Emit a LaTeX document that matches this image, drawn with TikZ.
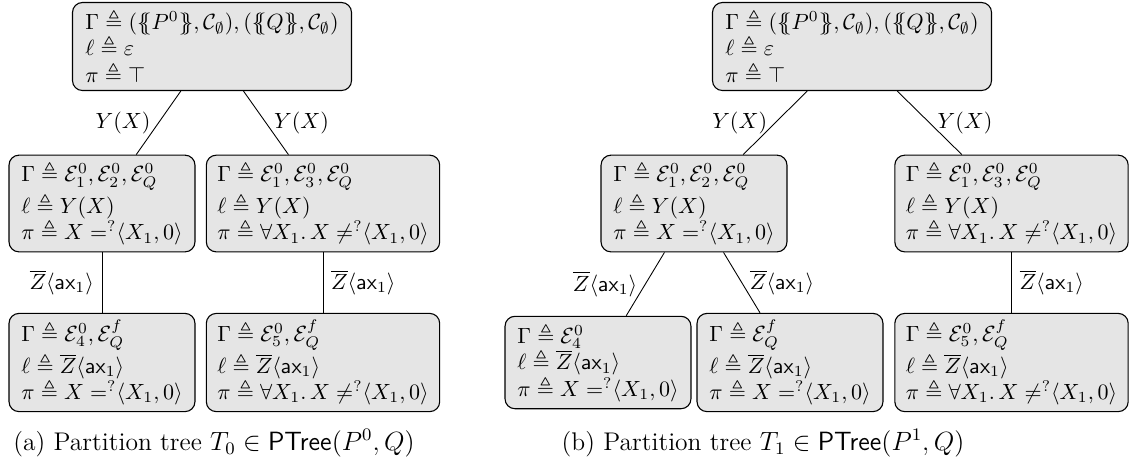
\documentclass[tikz,border=0pt]{standalone}
\usepackage{amsmath,amssymb}
\newcommand{\lbb}{\{\!\!\{}
\newcommand{\rbb}{\}\!\!\}}
\newcommand{\eqq}{\mathrel{=^{?}}\mkern-5mu}
\newcommand{\neqq}{\mathrel{\neq^{?}}\mkern-5mu}
\newcommand{\Zax}{\overline{Z}\langle\mathsf{ax}_1\rangle}
\tikzset{
  tbox/.style={draw=black, line width=0.5pt, rounded corners=4.5pt, fill=black!10,
    align=left, inner xsep=5pt, inner ysep=3pt},
  rootbox/.style={tbox, minimum width=126.8pt, minimum height=39.5pt},
  narrowbox/.style={tbox, minimum width=84.5pt, minimum height=42pt},
  widebox/.style={tbox, minimum width=105.9pt, minimum height=42pt},
  edge/.style={draw=black, line width=0.4pt},
  elab/.style={inner sep=3.5pt},
  capt/.style={font=\fontsize{11.6}{14}\selectfont}
}
\begin{document}
\begin{tikzpicture}[x=0.4545pt, y=-0.4545pt]
\useasboundingbox (0,0) rectangle (1132,459);
% ---------- tree (a)
\node[rootbox] (r0) at (212,46.5) {$\Gamma \triangleq (\lbb P^0\rbb, \mathcal{C}_\emptyset), (\lbb Q\rbb, \mathcal{C}_\emptyset)$\\ $\ell \triangleq \varepsilon$\\ $\pi \triangleq \top$};
\node[narrowbox] (a1) at (102,203.5) {$\Gamma \triangleq \mathcal{E}^0_1, \mathcal{E}^0_2, \mathcal{E}^0_Q$\\ $\ell \triangleq Y(X)$\\ $\pi \triangleq X \eqq\langle X_1, 0\rangle$};
\node[widebox] (a2) at (323,203.5) {$\Gamma \triangleq \mathcal{E}^0_1, \mathcal{E}^0_3, \mathcal{E}^0_Q$\\ $\ell \triangleq Y(X)$\\ $\pi \triangleq \forall X_1.\, X \neqq\langle X_1, 0\rangle$};
\node[narrowbox] (a3) at (102,362.5) {$\Gamma \triangleq \mathcal{E}^0_4, \mathcal{E}^f_Q$\\ $\ell \triangleq \Zax$\\ $\pi \triangleq X \eqq\langle X_1, 0\rangle$};
\node[widebox] (a4) at (323,362.5) {$\Gamma \triangleq \mathcal{E}^0_5, \mathcal{E}^f_Q$\\ $\ell \triangleq \Zax$\\ $\pi \triangleq \forall X_1.\, X \neqq\langle X_1, 0\rangle$};
\draw[edge] (r0) -- node[elab, left] {$Y(X)$} (a1);
\draw[edge] (r0) -- node[elab, right] {$Y(X)$} (a2);
\draw[edge] (a1) -- node[elab, left] {$\Zax$} (a3);
\draw[edge] (a2) -- node[elab, right] {$\Zax$} (a4);
\node[capt] (ca) at (214,443) {(a) Partition tree $T_0 \in \mathsf{PTree}(P^0, Q)$};
% ---------- tree (b)
\node[rootbox] (s0) at (852,46.5) {$\Gamma \triangleq (\lbb P^0\rbb, \mathcal{C}_\emptyset), (\lbb Q\rbb, \mathcal{C}_\emptyset)$\\ $\ell \triangleq \varepsilon$\\ $\pi \triangleq \top$};
\node[narrowbox] (b1) at (694,203.5) {$\Gamma \triangleq \mathcal{E}^0_1, \mathcal{E}^0_2, \mathcal{E}^0_Q$\\ $\ell \triangleq Y(X)$\\ $\pi \triangleq X \eqq\langle X_1, 0\rangle$};
\node[widebox] (b2) at (1011.5,203.5) {$\Gamma \triangleq \mathcal{E}^0_1, \mathcal{E}^0_3, \mathcal{E}^0_Q$\\ $\ell \triangleq Y(X)$\\ $\pi \triangleq \forall X_1.\, X \neqq\langle X_1, 0\rangle$};
\node[narrowbox] (b3) at (598,362.5) {$\Gamma \triangleq \mathcal{E}^0_4$\\ $\ell \triangleq \Zax$\\ $\pi \triangleq X \eqq\langle X_1, 0\rangle$};
\node[narrowbox] (b4) at (790,362.5) {$\Gamma \triangleq \mathcal{E}^f_Q$\\ $\ell \triangleq \Zax$\\ $\pi \triangleq X \eqq\langle X_1, 0\rangle$};
\node[widebox] (b5) at (1011.5,362.5) {$\Gamma \triangleq \mathcal{E}^0_5, \mathcal{E}^f_Q$\\ $\ell \triangleq \Zax$\\ $\pi \triangleq \forall X_1.\, X \neqq\langle X_1, 0\rangle$};
\draw[edge] (s0) -- node[elab, left] {$Y(X)$} (b1);
\draw[edge] (s0) -- node[elab, right] {$Y(X)$} (b2);
\draw[edge] (b1) -- node[elab, left] {$\Zax$} (b3);
\draw[edge] (b1) -- node[elab, right] {$\Zax$} (b4);
\draw[edge] (b2) -- node[elab, right] {$\Zax$} (b5);
\node[capt] (cb) at (763,443) {(b) Partition tree $T_1 \in \mathsf{PTree}(P^1, Q)$};
\end{tikzpicture}
\end{document}
